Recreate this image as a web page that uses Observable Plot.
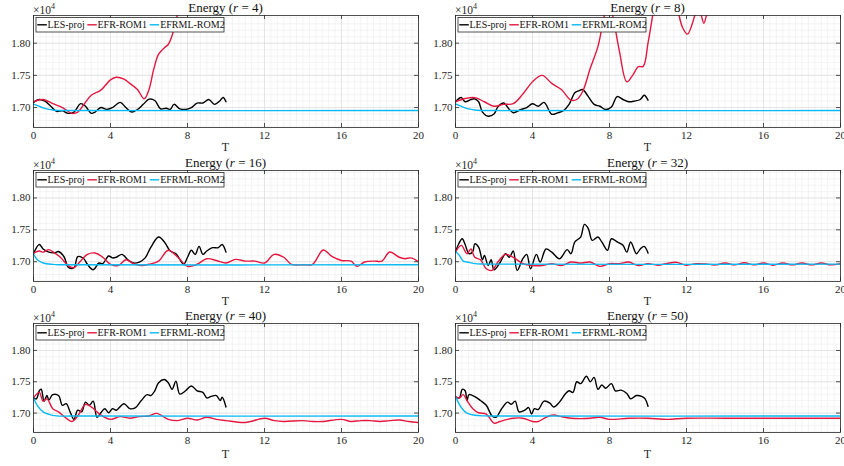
<!DOCTYPE html>
<html>
<head>
<meta charset="utf-8">
<script src="https://cdn.jsdelivr.net/npm/d3@7"></script>
<script src="https://cdn.jsdelivr.net/npm/@observablehq/plot@0.6"></script>
<style>
  body { margin: 0; background: #fff; }
  #chart { position: relative; width: 844px; height: 466px; overflow: hidden; background: #fff; }
  #chart svg { position: absolute; overflow: visible; }
  #chart svg text { font-family: 'Liberation Serif', 'DejaVu Serif', serif; }
</style>
</head>
<body>
<div id="chart"></div>
<script>
// ---------------- DATA (energy in units of 10^4, time T) ----------------
const X_TICKS = [0, 4, 8, 12, 16, 20];
const Y_TICKS = [1.70, 1.75, 1.80];
const R_VALUES = [4, 8, 16, 32, 40, 50];
const SERIES_NAMES = ["LES-proj", "EFR-ROM1", "EFRML-ROM2"];

// r = 4
const LES_r4 = [[0,1.708],[0.3,1.7125],[0.6,1.710],[0.9,1.702],[1.2,1.694],[1.5,1.695],[1.8,1.691],[2.1,1.693],[2.45,1.706],[2.7,1.702],[3.0,1.691],[3.2,1.693],[3.5,1.700],[3.8,1.697],[4.1,1.700],[4.5,1.708],[4.8,1.700],[5.1,1.693],[5.4,1.697],[5.7,1.705],[6.0,1.713],[6.3,1.711],[6.6,1.698],[6.9,1.699],[7.1,1.697],[7.3,1.705],[7.6,1.698],[7.9,1.697],[8.2,1.700],[8.5,1.707],[8.8,1.707],[9.1,1.7125],[9.4,1.705],[9.7,1.711],[9.85,1.7155],[10,1.709]];
const EFR1_r4 = [[0,1.709],[0.5,1.7125],[1.0,1.706],[1.5,1.700],[2.0,1.691],[2.3,1.693],[2.6,1.704],[3.0,1.719],[3.5,1.727],[4.0,1.743],[4.3,1.747],[4.7,1.744],[5.0,1.7375],[5.4,1.728],[5.75,1.7135],[6.0,1.728],[6.25,1.760],[6.5,1.783],[6.8,1.793],[7.0,1.798],[7.2,1.812],[7.4,1.835],[7.5,1.848],[7.6,1.87]];
const EFRML_r4 = [[0,1.7052],[0.25,1.7025],[0.5,1.6995],[0.75,1.6975],[1.0,1.6962],[1.5,1.6954],[2,1.6953],[20,1.6953]];

// r = 8
const LES_r8 = [[0,1.709],[0.3,1.7155],[0.5,1.709],[0.8,1.7125],[1.0,1.7135],[1.2,1.709],[1.4,1.693],[1.7,1.6865],[2.0,1.690],[2.2,1.701],[2.5,1.707],[2.8,1.697],[3.0,1.692],[3.4,1.697],[3.7,1.700],[4.0,1.706],[4.3,1.702],[4.6,1.708],[5.0,1.6896],[5.3,1.6917],[5.6,1.695],[5.9,1.705],[6.2,1.723],[6.4,1.726],[6.6,1.728],[6.9,1.717],[7.2,1.705],[7.5,1.702],[7.8,1.697],[8.1,1.701],[8.4,1.717],[8.7,1.7125],[9.0,1.709],[9.3,1.710],[9.6,1.7125],[9.8,1.719],[10,1.7115]];
const EFR1_r8 = [[0,1.709],[0.5,1.714],[1.0,1.7155],[1.5,1.709],[2.0,1.702],[2.5,1.705],[3.0,1.706],[3.5,1.721],[4.0,1.740],[4.5,1.750],[5.0,1.7375],[5.5,1.728],[6.0,1.7115],[6.3,1.7125],[6.6,1.7245],[7.0,1.761],[7.4,1.795],[7.75,1.845],[7.95,1.862],[8.15,1.845],[8.5,1.79],[8.9,1.740],[9.2,1.750],[9.5,1.7635],[9.75,1.764],[10.0,1.80],[10.25,1.845],[10.5,1.90],[11.0,1.95],[11.4,1.88],[11.6,1.845],[11.8,1.824],[12.05,1.814],[12.3,1.83],[12.45,1.845],[12.6,1.855],[12.75,1.845],[12.9,1.831],[13.05,1.845],[13.2,1.87]];
const EFRML_r8 = [[0,1.7055],[0.25,1.7025],[0.5,1.6995],[0.75,1.6975],[1.0,1.6962],[1.5,1.6954],[2,1.6953],[20,1.6953]];

// r = 16
const LES_r16 = [[0,1.7126],[0.3,1.727],[0.5,1.720],[0.8,1.715],[1.1,1.714],[1.3,1.716],[1.6,1.707],[1.8,1.6916],[2.1,1.6906],[2.3,1.708],[2.6,1.705],[2.8,1.696],[3.1,1.6874],[3.4,1.698],[3.6,1.697],[3.9,1.709],[4.1,1.706],[4.3,1.707],[4.6,1.7115],[4.9,1.703],[5.2,1.698],[5.5,1.6995],[5.8,1.706],[6.1,1.723],[6.5,1.7387],[6.8,1.731],[7.1,1.7168],[7.4,1.7126],[7.8,1.696],[8.0,1.707],[8.2,1.718],[8.4,1.7115],[8.6,1.724],[8.8,1.7115],[9.0,1.7168],[9.3,1.722],[9.6,1.722],[9.8,1.727],[10,1.715]];
const EFR1_r16 = [[0,1.7136],[0.3,1.7168],[0.5,1.715],[0.8,1.719],[1.1,1.7136],[1.4,1.707],[1.8,1.694],[2.1,1.6906],[2.4,1.6995],[2.8,1.7115],[3.2,1.7136],[3.6,1.707],[4.0,1.696],[4.4,1.694],[4.8,1.703],[5.2,1.697],[5.6,1.694],[6.0,1.696],[6.5,1.701],[7.0,1.718],[7.5,1.707],[8.0,1.6927],[8.5,1.696],[9.0,1.7047],[9.5,1.702],[10.0,1.698],[10.5,1.7037],[11.0,1.701],[11.5,1.701],[12.0,1.698],[12.5,1.7115],[13.0,1.707],[13.4,1.696],[14.0,1.6953],[14.5,1.696],[15.05,1.7184],[15.5,1.7084],[16.0,1.702],[16.5,1.701],[16.8,1.6928],[17.2,1.6995],[17.7,1.701],[18.1,1.701],[18.5,1.7153],[19.0,1.707],[19.3,1.7047],[19.6,1.706],[20,1.700]];
const EFRML_r16 = [[0,1.7125],[0.2,1.703],[0.5,1.698],[1.0,1.6958],[1.5,1.6953],[20,1.6953]];

// r = 32
const LES_r32 = [[0,1.715],[0.15,1.727],[0.35,1.736],[0.5,1.727],[0.7,1.7126],[0.9,1.716],[1.0,1.728],[1.2,1.723],[1.4,1.703],[1.5,1.710],[1.7,1.694],[1.85,1.703],[2.0,1.6874],[2.3,1.698],[2.6,1.7126],[2.8,1.707],[3.0,1.7168],[3.2,1.6864],[3.5,1.7047],[3.7,1.7115],[3.9,1.689],[4.2,1.7115],[4.4,1.6995],[4.7,1.720],[5.0,1.715],[5.4,1.7047],[5.8,1.719],[6.0,1.7126],[6.2,1.731],[6.5,1.7387],[6.7,1.7586],[6.9,1.752],[7.1,1.7335],[7.4,1.7387],[7.6,1.731],[7.9,1.718],[8.1,1.736],[8.4,1.731],[8.7,1.7257],[8.9,1.715],[9.1,1.731],[9.4,1.7126],[9.6,1.720],[9.8,1.724],[10,1.7136]];
const EFR1_r32 = [[0,1.715],[0.3,1.7257],[0.6,1.7126],[0.8,1.720],[1.0,1.707],[1.3,1.703],[1.6,1.689],[1.9,1.6864],[2.2,1.6995],[2.6,1.7115],[3.0,1.707],[3.5,1.697],[4.0,1.694],[4.5,1.694],[5.0,1.697],[5.5,1.694],[6.0,1.6995],[6.5,1.698],[7.0,1.6995],[7.5,1.6927],[8.0,1.697],[8.5,1.697],[9.0,1.6995],[9.5,1.694],[10,1.697],[10.5,1.6945],[11,1.6975],[11.5,1.699],[12,1.6945],[12.5,1.697],[13,1.6965],[13.5,1.695],[14,1.698],[14.5,1.695],[15,1.6985],[15.5,1.695],[16,1.698],[16.5,1.6945],[17,1.698],[17.5,1.695],[18,1.698],[18.5,1.695],[19,1.698],[19.5,1.695],[20,1.697]];
const EFRML_r32 = [[0,1.716],[0.2,1.710],[0.4,1.701],[0.6,1.6995],[1.0,1.697],[1.5,1.6963],[20,1.6963]];

// r = 40
const LES_r40 = [[0,1.7242],[0.15,1.7227],[0.3,1.7356],[0.4,1.738],[0.55,1.719],[0.7,1.728],[0.8,1.721],[1.0,1.7294],[1.3,1.728],[1.5,1.7124],[1.7,1.715],[1.9,1.702],[2.1,1.690],[2.3,1.7046],[2.5,1.702],[2.7,1.7175],[2.9,1.7124],[3.1,1.719],[3.3,1.6933],[3.5,1.7005],[3.7,1.707],[3.9,1.7005],[4.1,1.707],[4.3,1.7046],[4.7,1.715],[5.0,1.707],[5.3,1.7088],[5.6,1.720],[5.9,1.7294],[6.1,1.728],[6.3,1.7356],[6.5,1.7485],[6.8,1.7536],[7.0,1.7485],[7.2,1.738],[7.4,1.751],[7.6,1.7304],[7.9,1.7356],[8.2,1.7433],[8.5,1.7356],[8.8,1.733],[9.0,1.7242],[9.2,1.7263],[9.5,1.728],[9.7,1.720],[9.8,1.7253],[10,1.7098]];
const EFR1_r40 = [[0,1.7242],[0.3,1.733],[0.5,1.719],[0.7,1.7227],[1.0,1.707],[1.3,1.702],[1.6,1.6943],[2.0,1.6866],[2.3,1.6954],[2.7,1.714],[3.0,1.7098],[3.5,1.697],[4.0,1.690],[4.5,1.6943],[5.0,1.6918],[5.5,1.6943],[6.0,1.6954],[6.4,1.6995],[7.0,1.690],[7.5,1.688],[8.0,1.6918],[8.5,1.689],[9.0,1.6933],[9.5,1.690],[10,1.688],[11,1.685],[12,1.6918],[12.5,1.688],[13,1.6866],[14,1.688],[14.5,1.6866],[15,1.6866],[16,1.690],[16.5,1.6866],[17,1.688],[17.5,1.688],[18,1.6866],[18.5,1.688],[19,1.689],[19.5,1.6866],[20,1.685]];
const EFRML_r40 = [[0,1.7242],[0.2,1.712],[0.5,1.702],[0.8,1.698],[1.2,1.6955],[2,1.6953],[20,1.6953]];

// r = 50
const LES_r50 = [[0,1.7263],[0.2,1.7242],[0.35,1.738],[0.5,1.7356],[0.6,1.720],[0.7,1.7294],[1.0,1.7263],[1.3,1.720],[1.6,1.7124],[1.9,1.6954],[2.1,1.6933],[2.4,1.707],[2.7,1.7175],[2.9,1.714],[3.1,1.719],[3.3,1.702],[3.6,1.7046],[3.8,1.7088],[3.95,1.6985],[4.1,1.707],[4.3,1.7057],[4.6,1.719],[4.9,1.716],[5.1,1.7098],[5.4,1.7175],[5.7,1.7304],[5.9,1.7356],[6.1,1.733],[6.3,1.750],[6.5,1.747],[6.8,1.7588],[7.0,1.750],[7.2,1.757],[7.4,1.738],[7.6,1.7448],[7.8,1.7397],[8.1,1.747],[8.3,1.7356],[8.6,1.7366],[8.9,1.7314],[9.1,1.7227],[9.4,1.728],[9.7,1.7263],[9.85,1.7227],[10,1.7108]];
const EFR1_r50 = [[0,1.7263],[0.2,1.7242],[0.4,1.7294],[0.6,1.720],[0.9,1.707],[1.2,1.7005],[1.6,1.6985],[2.0,1.684],[2.3,1.6866],[2.7,1.690],[3.0,1.6918],[3.5,1.6918],[4.0,1.6866],[4.3,1.6866],[4.7,1.6933],[5.1,1.697],[5.5,1.6943],[6.0,1.6918],[6.5,1.6912],[7.0,1.6918],[7.5,1.6933],[8.0,1.690],[9.0,1.6918],[10,1.6918],[11,1.690],[12,1.6918],[14,1.6918],[16,1.6918],[18,1.6918],[20,1.6918]];
const EFRML_r50 = [[0,1.7263],[0.2,1.714],[0.4,1.705],[0.6,1.700],[1.0,1.6965],[1.5,1.6955],[2,1.6953],[20,1.6953]];

const LES = [LES_r4, LES_r8, LES_r16, LES_r32, LES_r40, LES_r50];
const EFR1 = [EFR1_r4, EFR1_r8, EFR1_r16, EFR1_r32, EFR1_r40, EFR1_r50];
const EFRML = [EFRML_r4, EFRML_r8, EFRML_r16, EFRML_r32, EFRML_r40, EFRML_r50];

// ---------------- STYLE / LAYOUT ----------------
const COLORS = ["#000000", "#e3173f", "#08b9f2"];
const FONT = "'Liberation Serif', 'DejaVu Serif', serif";
const AXIS_C = "#262626";
const PANEL_W = 422;
const ROW_TOP = [0, 155, 310];
const ROW_H = [155, 155, 156];
const ROW_MT = [15, 15, 13];
const ROW_MB = [28, 29, 34];
const ML = 33, MR = 4;
const Y_DOMAIN = [1.669, 1.843];
const MINOR_X = d3.range(0, 20.0001, 1/3).map(v => +v.toFixed(4));
const MINOR_Y = d3.range(167, 185, 1).map(v => v / 100);

const chart = document.getElementById("chart");

R_VALUES.forEach((r, i) => {
  const col = i % 2, row = Math.floor(i / 2);
  const H = ROW_H[row], mt = ROW_MT[row], mb = ROW_MB[row];
  const fw = PANEL_W - ML - MR, fh = H - mt - mb;
  const rows = arr => arr.map(([T, E]) => ({T, E}));
  const line = (arr, c) => Plot.line(rows(arr), {x: "T", y: "E", stroke: c, strokeWidth: 1.4, curve: "catmull-rom", clip: true});

  const svg = Plot.plot({
    width: PANEL_W, height: H,
    marginLeft: ML, marginRight: MR, marginTop: mt, marginBottom: mb,
    style: {fontFamily: FONT, fontSize: "11px", color: AXIS_C, background: "transparent", overflow: "visible"},
    x: {domain: [0, 20]},
    y: {domain: Y_DOMAIN},
    marks: [
      Plot.ruleX(MINOR_X, {stroke: "#efefef", strokeWidth: 0.7}),
      Plot.ruleY(MINOR_Y.filter(v => v >= Y_DOMAIN[0] && v <= Y_DOMAIN[1]), {stroke: "#efefef", strokeWidth: 0.7}),
      Plot.ruleX(X_TICKS, {stroke: "#dedede", strokeWidth: 0.7}),
      Plot.ruleY(Y_TICKS, {stroke: "#dedede", strokeWidth: 0.7}),
      line(LES[i], COLORS[0]),
      line(EFR1[i], COLORS[1]),
      line(EFRML[i], COLORS[2]),
      Plot.tickX(X_TICKS, {x: d => d, insetTop: fh - 4, stroke: AXIS_C, strokeWidth: 0.8}),
      Plot.tickX(X_TICKS, {x: d => d, insetBottom: fh - 4, stroke: AXIS_C, strokeWidth: 0.8}),
      Plot.tickY(Y_TICKS, {y: d => d, insetRight: fw - 4, stroke: AXIS_C, strokeWidth: 0.8}),
      Plot.tickY(Y_TICKS, {y: d => d, insetLeft: fw - 4, stroke: AXIS_C, strokeWidth: 0.8}),
      Plot.frame({stroke: AXIS_C, strokeWidth: 0.8}),
      Plot.axisX(X_TICKS, {tickSize: 0, tickPadding: 4, tickFormat: d => String(d), label: null}),
      Plot.axisY(Y_TICKS, {tickSize: 0, tickPadding: 3, tickFormat: d => d.toFixed(2), label: null})
    ]
  });
  svg.style.left = (col * PANEL_W) + "px";
  svg.style.top = ROW_TOP[row] + "px";
  chart.appendChild(svg);

  const s = d3.select(svg);
  // title
  const t = s.append("text")
    .attr("x", ML + fw / 2).attr("y", mt - 3.5)
    .attr("text-anchor", "middle").style("font-family", FONT)
    .attr("font-size", 13).attr("fill", "#111");
  t.append("tspan").text("Energy (");
  t.append("tspan").attr("font-style", "italic").text("r");
  t.append("tspan").text(" = " + r + ")");
  // exponent label
  const e = s.append("text")
    .attr("x", ML).attr("y", mt - 1.5).attr("text-anchor", "start")
    .style("font-family", FONT).attr("font-size", 11.5).attr("fill", AXIS_C);
  e.append("tspan").text("×10");
  e.append("tspan").attr("font-size", 8).attr("dy", -4.5).text("4");
  // x label
  s.append("text")
    .attr("x", ML + fw / 2).attr("y", mt + fh + (row === 2 ? 26 : 24))
    .attr("text-anchor", "middle").style("font-family", FONT)
    .attr("font-size", 12).attr("fill", AXIS_C).text("T");
  // legend
  const g = s.append("g").attr("transform", `translate(${ML},${mt})`);
  g.append("rect").attr("x", 3).attr("y", 2.5).attr("width", 188).attr("height", 14.5)
    .attr("fill", "#fff").attr("stroke", AXIS_C).attr("stroke-width", 0.8);
  const sw = [4.3, 54.3, 116.7];
  const tx = [14.5, 64.5, 127.2];
  SERIES_NAMES.forEach((name, k) => {
    g.append("line").attr("x1", sw[k]).attr("x2", sw[k] + 9.5).attr("y1", 9.8).attr("y2", 9.8)
      .attr("stroke", COLORS[k]).attr("stroke-width", 1.4);
    g.append("text").attr("x", tx[k]).attr("y", 13.3).attr("text-anchor", "start")
      .style("font-family", FONT).attr("font-size", 10).attr("fill", "#111").text(name);
  });
});
</script>
</body>
</html>
